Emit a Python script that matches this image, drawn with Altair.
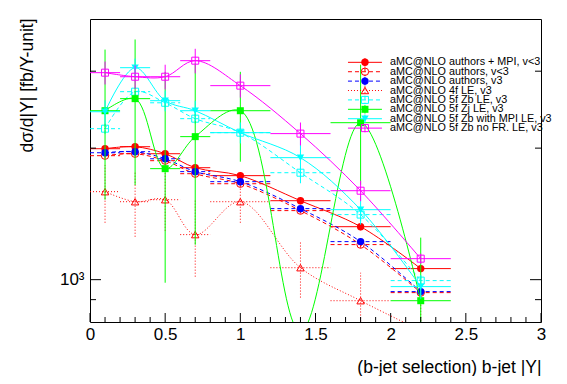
import altair as alt
import pandas as pd

# ---------------- data ----------------
x_mid = [0.1, 0.3, 0.5, 0.7, 1.0, 1.4, 1.8, 2.2]
x_lo = [0.0, 0.2, 0.4, 0.6, 0.8, 1.2, 1.6, 2.0]
x_hi = [0.2, 0.4, 0.6, 0.8, 1.2, 1.6, 2.0, 2.4]

names = [
    "aMC@NLO authors + MPI, v<3",
    "aMC@NLO authors, v<3",
    "aMC@NLO authors, v3",
    "aMC@NLO 4f LE, v3",
    "aMC@NLO 5f Zb LE, v3",
    "aMC@NLO 5f Zj LE, v3",
    "aMC@NLO 5f Zb with MPI LE, v3",
    "aMC@NLO 5f Zb no FR. LE, v3",
]

mpi_vlt3 = [1994, 2015, 1942, 1804, 1730, 1516, 1322, 1060]
mpi_vlt3_err = [35, 35, 35, 32, 30, 28, 25, 20]
auth_vlt3 = [1922, 1942, 1872, 1748, 1658, 1439, 1203, 934]
auth_vlt3_err = [30, 30, 30, 28, 25, 22, 20, 15]
auth_v3 = [1952, 1963, 1891, 1767, 1676, 1454, 1222, 939]
auth_v3_err = [30, 30, 30, 28, 25, 22, 20, 15]
le4f = [1590, 1508, 1524, 1268, 1508, 1065, 895, 765]
le4f_err = [240, 254, 230, 252, 158, 155, 142, 130]
zb_le = [2216, 2693, 2540, 2336, 2170, 1757, 1409, 995]
zb_le_err = [60, 60, 60, 60, 50, 50, 45, 30]
zj_le = [2436, 2596, 1795, 2125, 2436, 760, 2287, 895]
zj_le_err_lo = [912, 950, 811, 923, 574, 100, 638, 353]
zj_le_err_hi = [926, 950, 1195, 1000, 554, 20, 817, 353]
zb_mpi = [2423, 3056, 2568, 2436, 2170, 1902, 1446, 964]
zb_mpi_err = [150, 150, 140, 130, 120, 240, 110, 60]
zb_nofr = [2977, 2914, 2914, 3171, 2780, 2159, 1598, 1117]
zb_nofr_err = [180, 180, 190, 205, 170, 130, 86, 30]

values = [mpi_vlt3, auth_vlt3, auth_v3, le4f, zb_le, zj_le, zb_mpi, zb_nofr]
err_lo = [mpi_vlt3_err, auth_vlt3_err, auth_v3_err, le4f_err, zb_le_err,
          zj_le_err_lo, zb_mpi_err, zb_nofr_err]
err_hi = [mpi_vlt3_err, auth_vlt3_err, auth_v3_err, le4f_err, zb_le_err,
          zj_le_err_hi, zb_mpi_err, zb_nofr_err]

x_major = [0, 0.5, 1, 1.5, 2, 2.5, 3]
x_minor = [round(0.1 * i, 1) for i in range(31) if i % 5 != 0]
y_major = [1000]
y_minor = [900, 2000, 3000]

# ---------------- styles ----------------
RED, BLUE, GREEN, CYAN, MAG = "#ff0000", "#0000ff", "#00ff00", "#00ffff", "#ff00ff"
DASH = [4, 3]
DOT = [1, 2]
styles = [
    dict(color=RED, dash=None, shape="circle", filled=True, size=55),
    dict(color=RED, dash=DASH, shape="circle", filled=False, size=55),
    dict(color=BLUE, dash=DASH, shape="circle", filled=True, size=55),
    dict(color=RED, dash=DOT, shape="triangle-up", filled=False, size=55),
    dict(color=CYAN, dash=DASH, shape="square", filled=False, size=49),
    dict(color=GREEN, dash=None, shape="square", filled=True, size=49),
    dict(color=CYAN, dash=None, shape="triangle-down", filled=True, size=55),
    dict(color=MAG, dash=None, shape="square", filled=False, size=49),
]

W, H = 451, 303
FONT = "Liberation Sans"

xscale = alt.Scale(domain=[0, 3], nice=False, zero=False)
yscale = alt.Scale(type="log", domain=[800, 3950], nice=False)

xaxis = alt.Axis(values=x_major, format=".1~f", ticks=False, domain=False, grid=False,
                 labelFont=FONT, labelFontSize=17, labelPadding=4, labelColor="black",
                 labelFlush=False, labelOverlap=False,
                 title="(b-jet selection) b-jet |Y|", titleFont=FONT, titleFontSize=17.5,
                 titleFontWeight="normal", titleColor="black", titleAnchor="end",
                 titleAlign="right", titleBaseline="alphabetic", titleX=W, titleY=50)
yaxis = alt.Axis(values=y_major, labelExpr="'10³'", ticks=False, domain=False, grid=False,
                 labelFont=FONT, labelFontSize=17, labelPadding=6, labelColor="black",
                 labelOverlap=False,
                 title="dσ/d|Y| [fb/Y-unit]", titleFont=FONT, titleFontSize=17.5,
                 titleFontWeight="normal", titleColor="black", titleAnchor="end",
                 titleAngle=270, titleAlign="right", titleBaseline="middle",
                 titleX=-63, titleY=-1)


def X(f):
    return alt.X(f, type="quantitative", scale=xscale, axis=xaxis)


def Y(f):
    return alt.Y(f, type="quantitative", scale=yscale, axis=yaxis)


def dash_kw(st):
    return {"strokeDash": st["dash"]} if st["dash"] else {}


main_layers = []
for i, (nm, st) in enumerate(zip(names, styles)):
    df = pd.DataFrame({
        "x": x_mid, "xlo": x_lo, "xhi": x_hi, "y": values[i],
        "ylo": [v - e for v, e in zip(values[i], err_lo[i])],
        "yhi": [v + e for v, e in zip(values[i], err_hi[i])],
    })
    base = alt.Chart(df)
    c = st["color"]
    main_layers.append(base.mark_rule(color=c, strokeWidth=1, clip=True, **dash_kw(st))
                       .encode(x=X("xlo"), x2="xhi", y=Y("y")))
    main_layers.append(base.mark_rule(color=c, strokeWidth=1, clip=True, **dash_kw(st))
                       .encode(x=X("x"), y=Y("ylo"), y2="yhi"))
    main_layers.append(base.mark_line(color=c, strokeWidth=1, clip=True,
                                      interpolate="catmull-rom", **dash_kw(st))
                       .encode(x=X("x"), y=Y("y"), order="x:Q"))
    main_layers.append(base.mark_point(shape=st["shape"], filled=st["filled"], color=c,
                                       size=st["size"], opacity=1, strokeWidth=1, clip=True)
                       .encode(x=X("x"), y=Y("y")))

# inward ticks
xmaj = alt.Chart(pd.DataFrame({"t": x_major})).mark_rule(color="black", strokeWidth=1)
xmin = alt.Chart(pd.DataFrame({"t": x_minor})).mark_rule(color="black", strokeWidth=1)
ymaj = alt.Chart(pd.DataFrame({"t": y_major})).mark_rule(color="black", strokeWidth=1)
ymin = alt.Chart(pd.DataFrame({"t": y_minor})).mark_rule(color="black", strokeWidth=1)
main_layers += [
    xmaj.encode(x=X("t"), y=alt.value(H), y2=alt.value(H - 9)),
    xmin.encode(x=X("t"), y=alt.value(H), y2=alt.value(H - 5)),
    ymaj.encode(y=Y("t"), x=alt.value(0), x2=alt.value(11)),
    ymaj.encode(y=Y("t"), x=alt.value(W), x2=alt.value(W - 11)),
    ymin.encode(y=Y("t"), x=alt.value(0), x2=alt.value(6)),
    ymin.encode(y=Y("t"), x=alt.value(W), x2=alt.value(W - 6)),
]

main = alt.layer(*main_layers)

# ---------------- legend (rows on their own scale) ----------------
lscale = alt.Scale(domain=[-4.61, 27.63], reverse=True, nice=False, zero=False)


def LY(f):
    return alt.Y(f, type="quantitative", scale=lscale, axis=None)


leg_layers = []
for i, (nm, st) in enumerate(zip(names, styles)):
    ldf = pd.DataFrame({"row": [i], "rlo": [i - 0.45], "rhi": [i + 0.45]})
    b = alt.Chart(ldf)
    c = st["color"]
    leg_layers.append(b.mark_rule(color=c, strokeWidth=1, **dash_kw(st))
                      .encode(x=alt.datum(1.716), x2=alt.datum(1.942), y=LY("row")))
    leg_layers.append(b.mark_rule(color=c, strokeWidth=1, **dash_kw(st))
                      .encode(x=alt.datum(1.829), y=LY("rlo"), y2="rhi"))
    leg_layers.append(b.mark_point(shape=st["shape"], filled=st["filled"], color=c,
                                   size=st["size"], opacity=1, strokeWidth=1)
                      .encode(x=alt.datum(1.829), y=LY("row")))

ltext = pd.DataFrame({"row": list(range(len(names))), "name": names})
leg_layers.append(alt.Chart(ltext).mark_text(align="left", baseline="middle", font=FONT,
                                             fontSize=10.8, color="black")
                  .encode(x=alt.datum(1.996), y=LY("row"), text="name:N"))
leg = alt.layer(*leg_layers)

chart = (
    alt.layer(main, leg)
    .resolve_scale(y="independent")
    .properties(width=W, height=H, autosize=alt.AutoSizeParams(type="none"),
                padding={"left": 82, "top": 11, "right": 18, "bottom": 54},
                background="white")
    .configure_view(stroke="black", strokeWidth=1)
)

chart.save("out.html", embed_options={"renderer": "svg", "actions": False})
